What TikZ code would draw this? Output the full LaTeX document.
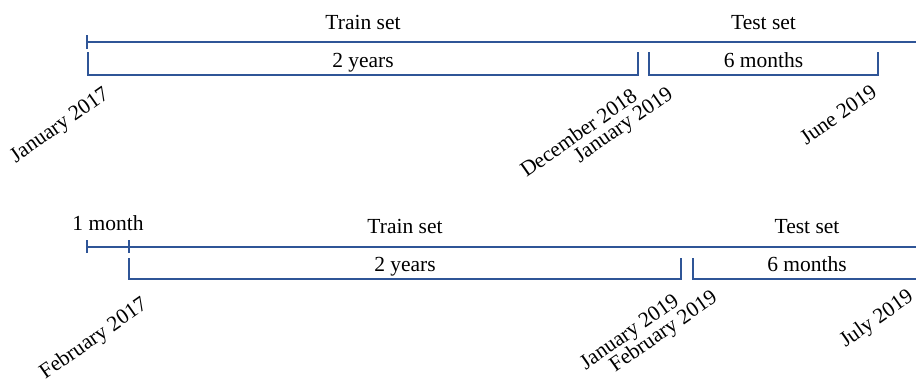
\documentclass[tikz,border=0pt]{standalone}
\usepackage{fontspec}
\setmainfont{Liberation Serif}
\definecolor{axisblue}{RGB}{47,85,151}

\tikzset{
  date/.style={rotate=35, anchor=north east, inner sep=0pt, font=\fontsize{21.5}{25}\selectfont},
  span/.style={anchor=base, inner sep=0pt, font=\fontsize{21.5}{25}\selectfont}
}

\begin{document}
\begin{tikzpicture}[x=1pt, y=-1pt]
      \useasboundingbox (0,0) rectangle (916,380);
      \draw
        (87,42) coordinate (axisA0)
        (916,42) coordinate (axisA1)
        (87,35) coordinate (tickA0)
        (87,49) coordinate (tickA1)
        (88,52) coordinate (trainA0)
        (88,75) coordinate (trainA1)
        (638,75) coordinate (trainA2)
        (638,52) coordinate (trainA3)
        (649,52) coordinate (testA0)
        (649,75) coordinate (testA1)
        (878,75) coordinate (testA2)
        (878,52) coordinate (testA3)
        (363,29) node[span] (trainsetA){Train set}
        (763.5,29) node[span] (testsetA){Test set}
        (363,67) node[span] (twoyearsA){2 years}
        (763.5,67) node[span] (sixmonthsA){6 months}
        (102,85) node[date] (jan2017){January 2017}
        (630,87) node[date] (dec2018){December 2018}
        (666,85) node[date] (jan2019A){January 2019}
        (870,83) node[date] (jun2019){June 2019};
      \draw
        (87,247) coordinate (axisB0)
        (916,247) coordinate (axisB1)
        (87,240) coordinate (tickB0)
        (87,253) coordinate (tickB1)
        (129,240) coordinate (tickB2)
        (129,253) coordinate (tickB3)
        (129,258) coordinate (trainB0)
        (129,279) coordinate (trainB1)
        (681,279) coordinate (trainB2)
        (681,258) coordinate (trainB3)
        (693,258) coordinate (testB0)
        (693,279) coordinate (testB1)
        (916,279) coordinate (testB2)
        (108,230) node[span] (onemonth){1 month}
        (405,233) node[span] (trainsetB){Train set}
        (807,233) node[span] (testsetB){Test set}
        (405,271) node[span] (twoyearsB){2 years}
        (807,271) node[span] (sixmonthsB){6 months}
        (140,295) node[date] (feb2017){February 2017}
        (672,292) node[date] (jan2019B){January 2019}
        (710,288) node[date] (feb2019){February 2019}
        (906,287) node[date] (jul2019){July 2019};
      \begin{scope}[draw=axisblue, line width=1.5pt]
        \draw (axisA0) to (axisA1);
        \draw (tickA0) to (tickA1);
        \draw (trainA0) -- (trainA1) -- (trainA2) -- (trainA3);
        \draw (testA0) -- (testA1) -- (testA2) -- (testA3);
        \draw (axisB0) to (axisB1);
        \draw (tickB0) to (tickB1);
        \draw (tickB2) to (tickB3);
        \draw (trainB0) -- (trainB1) -- (trainB2) -- (trainB3);
        \draw (testB0) -- (testB1) -- (testB2);
      \end{scope}
    \end{tikzpicture}
\end{document}
